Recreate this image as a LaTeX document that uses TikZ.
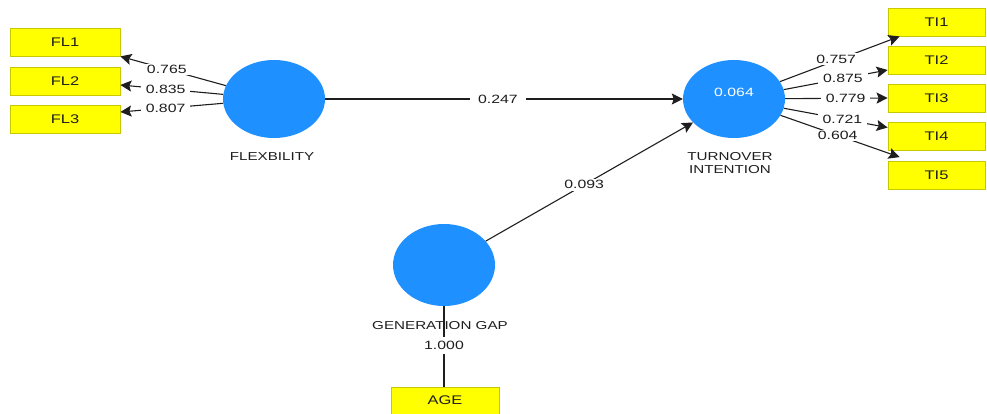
\documentclass[tikz,border=0pt]{standalone}
\usepackage{fontspec}
\setmainfont{Liberation Sans}[FakeStretch=1.32]
\usetikzlibrary{shapes.geometric,arrows.meta}
\definecolor{boxfill}{RGB}{255,255,0}
\definecolor{boxline}{RGB}{200,200,0}
\definecolor{lvblue}{RGB}{30,144,255}
\definecolor{ink}{RGB}{30,30,30}
\begin{document}
\begin{tikzpicture}[x=1pt,y=-1pt,
  indbox/.style={draw=boxline,fill=boxfill,line width=0.8pt,inner sep=0pt,
    font=\fontsize{12.5}{14}\selectfont,text=ink},
  lv/.style={ellipse,fill=lvblue,draw=none,minimum width=102pt,minimum height=78pt,inner sep=0pt},
  captxt/.style={font=\fontsize{11.5}{14}\selectfont,text=ink,align=center,inner sep=0pt},
  wt/.style={fill=white,inner xsep=5pt,inner ysep=1.5pt,font=\fontsize{12}{13}\selectfont,text=ink},
  conn/.style={draw=ink,line width=1.1pt,-{Stealth[length=11pt,width=11pt,inset=2pt]}},
  plain/.style={draw=ink,line width=1.1pt}]
\useasboundingbox (0,0) rectangle (987,414);
% indicator boxes
\node[indbox,minimum width=110pt,minimum height=28pt] (fl1) at (65,42) {FL1};
\node[indbox,minimum width=110pt,minimum height=28pt] (fl2) at (65,81) {FL2};
\node[indbox,minimum width=110pt,minimum height=28pt] (fl3) at (65,119) {FL3};
\node[indbox,minimum width=97pt,minimum height=28pt] (ti1) at (936.5,22) {TI1};
\node[indbox,minimum width=97pt,minimum height=28pt] (ti2) at (936.5,60) {TI2};
\node[indbox,minimum width=97pt,minimum height=28pt] (ti3) at (936.5,98) {TI3};
\node[indbox,minimum width=97pt,minimum height=28pt] (ti4) at (936.5,136.5) {TI4};
\node[indbox,minimum width=97pt,minimum height=28pt] (ti5) at (936.5,175.5) {TI5};
\node[indbox,minimum width=108pt,minimum height=27pt] (age) at (445,400.5) {AGE};
% latent variables
\node[lv] (flex) at (274,99) {};
\node[lv] (ti) at (734,99) {};
\node[lv,minimum height=82pt] (gg) at (444,265) {};
\node[font=\fontsize{12}{13}\selectfont,text=white,inner sep=0pt] (tival) at (734,92) {0.064};
% measurement model: flexibility
\draw[conn] (flex) -- node[wt,pos=0.56] (l765) {0.765} (fl1.south east);
\draw[conn] (flex) -- node[wt,pos=0.56] (l835) {0.835} ([yshift=-4pt]fl2.east);
\draw[conn] (flex) -- node[wt,pos=0.56] (l807) {0.807} ([yshift=7pt]fl3.east);
% measurement model: turnover intention
\draw[conn] (ti) -- node[wt,pos=0.47,yshift=1.5pt] (l757) {0.757} ([xshift=12pt]ti1.south west);
\draw[conn] (ti) -- node[wt,pos=0.57] (l875) {0.875} ([yshift=-10pt]ti2.west);
\draw[conn] (ti) -- node[wt,pos=0.59] (l779) {0.779} (ti3.west);
\draw[conn] (ti) -- node[wt,pos=0.565] (l721) {0.721} ([yshift=9pt]ti4.west);
\draw[conn] (ti) -- node[wt,pos=0.48] (l604) {0.604} ([xshift=12pt,yshift=4pt]ti5.north west);
% structural paths
\draw[conn] (flex) -- node[wt,pos=0.483,inner xsep=8pt] (l247) {0.247} (ti);
\draw[conn] (gg) -- node[wt,pos=0.475] (l093) {0.093} (ti);
% age
\draw[plain] (gg.south) -- node[wt,pos=0.49,inner ysep=4pt] (l1000) {1.000} (gg.south |- age.north);
% captions
\node[captxt] (cflex) at (272,157) {FLEXBILITY};
\node[captxt] (cti) at (730,163) {TURNOVER\\[-1pt]INTENTION};
\node[captxt] (cgg) at (440,326) {GENERATION GAP};
\end{tikzpicture}
\end{document}
